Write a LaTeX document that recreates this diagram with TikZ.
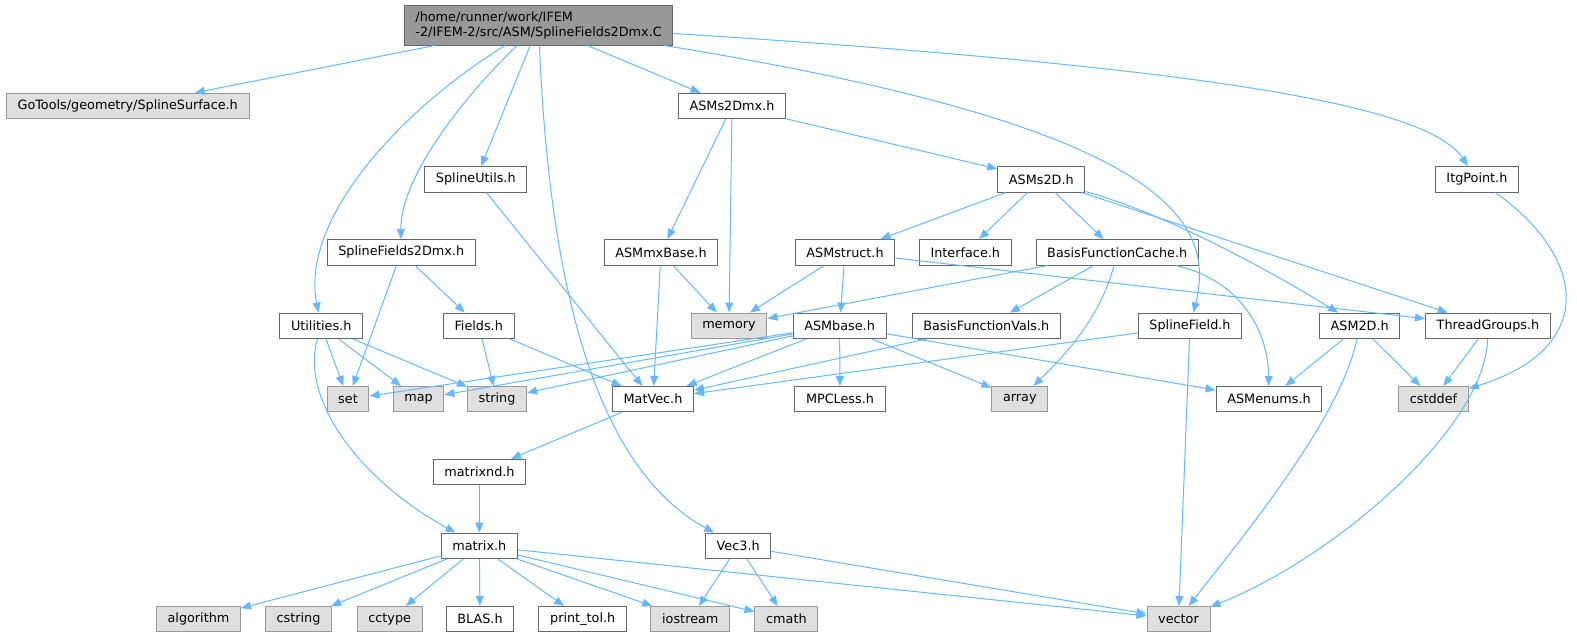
\documentclass[tikz,border=0pt]{standalone}
\usepackage{fontspec}
\setmainfont{DejaVu Sans}
\usetikzlibrary{arrows.meta}
\definecolor{edgeblue}{HTML}{63B8FF}
\definecolor{fileborder}{HTML}{666666}
\definecolor{sysfill}{HTML}{E0E0E0}
\definecolor{sysborder}{HTML}{999999}
\definecolor{rootfill}{HTML}{999999}

\begin{document}
\begin{tikzpicture}[x=0.75pt,y=0.75pt,yscale=-1,xscale=1,
  every node/.style={font=\fontsize{9.6}{11.25}\selectfont, inner xsep=8.4pt, inner ysep=0pt, minimum height=19.1pt, line width=0.75pt},
  hfile/.style={draw=fileborder, fill=white},
  sysfile/.style={draw=sysborder, fill=sysfill},
  rootfile/.style={draw=fileborder, fill=rootfill, align=left, minimum height=30pt},
  incl/.style={draw=edgeblue, line width=0.75pt, -{Triangle[length=7.5pt,width=6pt]}}]
%set diagram size to 1577 x 637
\useasboundingbox (0,0) rectangle (1577,637);

%Nodes
\node[rootfile] (root) at (538.6,25) {/home/runner/work/IFEM\\-2/IFEM-2/src/ASM/SplineFields2Dmx.C};
\node[sysfile] (gotools) at (127.7,106) {GoTools/geometry/SplineSurface.h};
\node[hfile] (asmstwodmx) at (732,106) {ASMs2Dmx.h};
\node[hfile] (splineutils) at (475.8,179.3) {SplineUtils.h};
\node[hfile] (asmstwod) at (1041.3,179.3) {ASMs2D.h};
\node[hfile] (itgpoint) at (1476.9,179.3) {ItgPoint.h};
\node[hfile] (splinefieldstwodmx) at (401.2,252.3) {SplineFields2Dmx.h};
\node[hfile] (asmmxbase) at (661,252.3) {ASMmxBase.h};
\node[hfile] (asmstruct) at (845,252.3) {ASMstruct.h};
\node[hfile] (interface) at (965.3,252.3) {Interface.h};
\node[hfile] (bfcache) at (1117.2,252.3) {BasisFunctionCache.h};
\node[hfile] (utilities) at (321.2,325.8) {Utilities.h};
\node[hfile] (fields) at (478.7,325.8) {Fields.h};
\node[sysfile] (memory) at (729,325.8) {memory};
\node[hfile] (asmbase) at (839.6,325.8) {ASMbase.h};
\node[hfile] (bfvals) at (986.3,325.8) {BasisFunctionVals.h};
\node[hfile] (splinefield) at (1190,325.8) {SplineField.h};
\node[hfile] (asmtwod) at (1359.7,325.8) {ASM2D.h};
\node[hfile] (threadgroups) at (1488,325.8) {ThreadGroups.h};
\node[sysfile] (set) at (348,399.2) {set};
\node[sysfile] (map) at (418.5,399.2) {map};
\node[sysfile] (string) at (497,399.2) {string};
\node[hfile] (matvec) at (653,399.2) {MatVec.h};
\node[hfile] (mpcless) at (840,399.2) {MPCLess.h};
\node[sysfile] (array) at (1019.8,399.2) {array};
\node[hfile] (asmenums) at (1269,399.2) {ASMenums.h};
\node[sysfile] (cstddef) at (1433.5,399.2) {cstddef};
\node[hfile] (matrixnd) at (479.5,472) {matrixnd.h};
\node[hfile] (matrix) at (479.3,545.8) {matrix.h};
\node[hfile] (vecthree) at (738.2,545.8) {Vec3.h};
\node[sysfile] (algorithm) at (198.5,619.2) {algorithm};
\node[sysfile] (cstring) at (298.5,619.2) {cstring};
\node[sysfile] (cctype) at (389.7,619.2) {cctype};
\node[hfile] (blas) at (480,619.2) {BLAS.h};
\node[hfile] (printtol) at (582.7,619.2) {print\_tol.h};
\node[sysfile] (iostream) at (690.3,619.2) {iostream};
\node[sysfile] (cmath) at (786.4,619.2) {cmath};
\node[sysfile] (vector) at (1178.5,619.2) {vector};

%Edges from the source file
\draw[incl] (root) -- (gotools);
\draw[incl] (root) -- (asmstwodmx);
\draw[incl] (root) .. controls (1250,70) and (1430,110) .. (itgpoint);
\draw[incl] (root) .. controls (1153,125) and (1218,215) .. (splinefield);
\draw[incl] (root) -- (splineutils);
\draw[incl] (root) .. controls (460,100) and (400,180) .. (splinefieldstwodmx);
\draw[incl] (root) .. controls (400,110) and (300,220) .. (utilities);
\draw[incl] (root) .. controls (550,300) and (600,470) .. (vecthree);

%Edges from the headers
\draw[incl] (asmstwodmx) -- (asmstwod);
\draw[incl] (asmstwodmx) -- (asmmxbase);
\draw[incl] (asmstwodmx) -- (memory);
\draw[incl] (splineutils) -- (matvec);
\draw[incl] (asmstwod) -- (asmstruct);
\draw[incl] (asmstwod) -- (interface);
\draw[incl] (asmstwod) -- (bfcache);
\draw[incl] (asmstwod) .. controls (1170,215) and (1275,274) .. (asmtwod);
\draw[incl] (asmstwod) -- (threadgroups);
\draw[incl] (itgpoint) .. controls (1590,260) and (1595,350) .. (cstddef);
\draw[incl] (splinefieldstwodmx) -- (set);
\draw[incl] (splinefieldstwodmx) -- (fields);
\draw[incl] (asmmxbase) -- (memory);
\draw[incl] (asmmxbase) -- (matvec);
\draw[incl] (asmstruct) -- (memory);
\draw[incl] (asmstruct) -- (asmbase);
\draw[incl] (asmstruct) -- (threadgroups);
\draw[incl] (bfcache) -- (memory);
\draw[incl] (bfcache) -- (bfvals);
\draw[incl] (bfcache) .. controls (1100,320) and (1060,360) .. (array);
\draw[incl] (bfcache) .. controls (1240,280) and (1268,330) .. (asmenums);
\draw[incl] (utilities) -- (set);
\draw[incl] (utilities) -- (map);
\draw[incl] (utilities) -- (string);
\draw[incl] (utilities) .. controls (300,400) and (360,480) .. (matrix);
\draw[incl] (fields) -- (string);
\draw[incl] (fields) -- (matvec);
\draw[incl] (asmbase) -- (set);
\draw[incl] (asmbase) -- (map);
\draw[incl] (asmbase) -- (string);
\draw[incl] (asmbase) -- (matvec);
\draw[incl] (asmbase) -- (mpcless);
\draw[incl] (asmbase) -- (array);
\draw[incl] (asmbase) -- (asmenums);
\draw[incl] (bfvals) -- (matvec);
\draw[incl] (splinefield) -- (matvec);
\draw[incl] (splinefield) -- (vector);
\draw[incl] (asmtwod) -- (asmenums);
\draw[incl] (asmtwod) -- (cstddef);
\draw[incl] (asmtwod) .. controls (1340,420) and (1240,540) .. (vector);
\draw[incl] (threadgroups) -- (cstddef);
\draw[incl] (threadgroups) .. controls (1485,430) and (1330,560) .. (vector);
\draw[incl] (matvec) -- (matrixnd);
\draw[incl] (matrixnd) -- (matrix);
\draw[incl] (matrix) -- (algorithm);
\draw[incl] (matrix) -- (cstring);
\draw[incl] (matrix) -- (cctype);
\draw[incl] (matrix) -- (blas);
\draw[incl] (matrix) -- (printtol);
\draw[incl] (matrix) -- (iostream);
\draw[incl] (matrix) -- (cmath);
\draw[incl] (matrix) -- (vector);
\draw[incl] (vecthree) -- (iostream);
\draw[incl] (vecthree) -- (cmath);
\draw[incl] (vecthree) -- (vector);

\end{tikzpicture}
\end{document}
